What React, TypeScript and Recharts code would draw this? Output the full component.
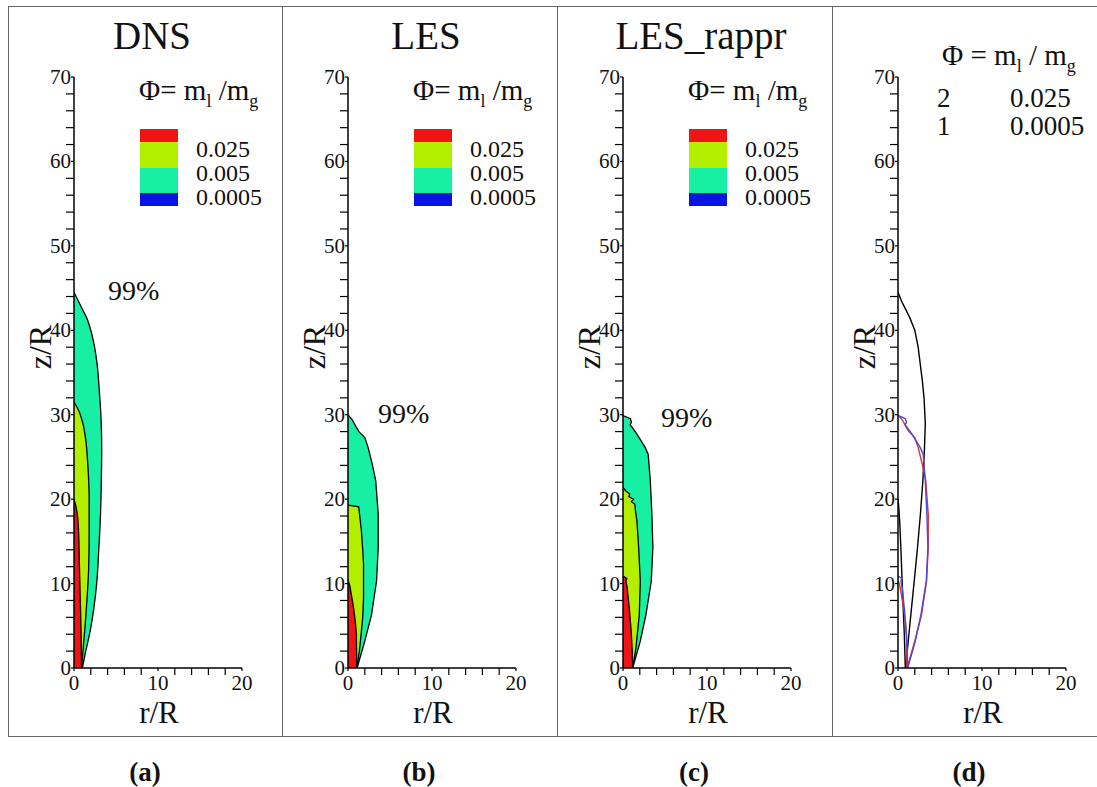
import React from "react";
import { ComposedChart, Area, Line, XAxis, YAxis } from "recharts";

const SERIF = "'Liberation Serif', 'Times New Roman', Times, serif";

// axis ticks (every 2, labels on multiples of 10)
const R_TICKS = [0, 2, 4, 6, 8, 10, 12, 14, 16, 18, 20];
const Z_TICKS = [
  0, 2, 4, 6, 8, 10, 12, 14, 16, 18, 20, 22, 24, 26, 28, 30, 32, 34, 36, 38,
  40, 42, 44, 46, 48, 50, 52, 54, 56, 58, 60, 62, 64, 66, 68, 70,
];

const TITLES = ["DNS", "LES", "LES_rappr", ""];
const CAPTIONS = ["(a)", "(b)", "(c)", "(d)"];
const LEVELS = ["0.025", "0.005", "0.0005"];
const ISO_LEVELS = [
  ["2", "0.025"],
  ["1", "0.0005"],
];
const PANEL_LEFT = [8, 282, 557, 832];

const COLORS = {
  high: "#f01414",
  mid: "#b2f000",
  low: "#17f0a4",
  floor: "#0a14e0",
  isoRed: "#e2302a",
  isoBlue: "#4a46e4",
};

// contour boundaries, [z/R, r/R]
const DNS_OUTER: [number, number][] = [
  [0, 1.0], [2, 1.4], [4, 1.85], [7, 2.35], [10, 2.7], [14, 2.95], [18, 3.15],
  [22, 3.25], [26, 3.3], [30, 3.2], [33, 3.0], [36, 2.75], [38, 2.45],
  [40, 2.0], [41.5, 1.5], [42.5, 1.0], [43.5, 0.5], [44.5, 0],
];
const DNS_MID: [number, number][] = [
  [0, 0.9], [3, 1.15], [6, 1.4], [9, 1.6], [12, 1.75], [16, 1.8], [20, 1.8],
  [24, 1.65], [27, 1.4], [29, 1.05], [30.5, 0.55], [31.5, 0],
];
const DNS_INNER: [number, number][] = [
  [0, 0.9], [4, 0.85], [8, 0.75], [12, 0.65], [16, 0.55], [18, 0.42],
  [19.3, 0.2], [20, 0],
];

const LES_OUTER: [number, number][] = [
  [0, 1.1], [0.4, 1.2], [3.2, 2.0], [6.3, 2.8], [10.3, 3.4], [14.3, 3.6],
  [18.2, 3.6], [22.2, 3.3], [24.1, 2.9], [26.1, 2.4], [27.3, 2.0], [28, 1.3],
  [28.5, 1.0], [29.4, 0.5], [30, 0],
];
const LES_MID: [number, number][] = [
  [0, 1.05], [2, 1.35], [4.4, 1.6], [6, 1.75], [8.3, 1.85], [12.3, 1.85],
  [14, 1.75], [16.2, 1.6], [18, 1.4], [19.1, 1.27], [19.3, 0.05], [19.35, 0],
];
const LES_INNER: [number, number][] = [
  [0, 1.05], [2, 1.02], [4, 1.0], [5.5, 0.87], [7.1, 0.67], [8.7, 0.4],
  [9.8, 0.2], [10.4, 0],
];

const RAPPR_OUTER: [number, number][] = [
  [0, 1.15], [0.4, 1.27], [3.2, 2.06], [6.3, 2.73], [10.3, 3.37],
  [14.3, 3.56], [18.2, 3.44], [22.2, 3.25], [25.3, 3.0], [26.1, 2.65],
  [27.0, 2.1], [27.7, 1.66], [28.2, 1.3], [28.5, 1.1], [28.8, 0.85],
  [29.1, 1.0], [29.5, 0.9], [29.7, 0.5], [29.9, 0],
];
const RAPPR_MID: [number, number][] = [
  [0, 1.15], [2.4, 1.54], [6.3, 1.94], [10.3, 2.06], [14.3, 1.86],
  [17.4, 1.66], [18.5, 1.5], [19.4, 1.4], [19.7, 1.0], [20.0, 1.25],
  [20.3, 0.7], [20.6, 0.8], [21.0, 0.3], [21.4, 0],
];
const RAPPR_INNER: [number, number][] = [
  [0, 1.15], [2, 1.1], [4, 1.0], [5.5, 0.88], [7.1, 0.75], [8.5, 0.6],
  [9.5, 0.5], [10.3, 0.35], [10.6, 0.45], [10.9, 0],
];

// panel (d): DNS iso-lines as drawn there
const DNS_ISO_OUTER: [number, number][] = [
  [0, 0.9], [2, 1.1], [4, 1.3], [7, 1.6], [10, 1.9], [14, 2.3], [18, 2.65],
  [22, 2.95], [26, 3.15], [29, 3.25], [32, 3.1], [34, 2.9], [36, 2.65],
  [38, 2.4], [40, 2.0], [41.5, 1.4], [42.5, 0.9], [43.5, 0.4], [44.5, 0],
];
const DNS_ISO_INNER: [number, number][] = [
  [0, 0.87], [4, 0.75], [10, 0.5], [14, 0.35], [17, 0.22], [19, 0.1],
  [20, 0],
];

const rows = (pts: [number, number][]) => pts.map(([z, r]) => ({ z, r }));

function RTick(props: any) {
  const { x, y, payload } = props;
  const major = payload.value % 10 === 0;
  return (
    <g>
      <line x1={x} x2={x} y1={y} y2={y + (major ? 3 : 7)} stroke="#000" strokeWidth={1.2} />
      {major && (
        <text x={x} y={y + 22} textAnchor="middle" fontFamily={SERIF} fontSize={21} fill="#111">
          {payload.value}
        </text>
      )}
    </g>
  );
}

function ZTick(props: any) {
  const { x, y, payload } = props;
  const major = payload.value % 10 === 0;
  return (
    <g>
      <line x1={x} x2={x - (major ? 3 : 8)} y1={y} y2={y} stroke="#000" strokeWidth={1.2} />
      {major && (
        <text x={x - 3} y={y + 7} textAnchor="end" fontFamily={SERIF} fontSize={21} fill="#111">
          {payload.value}
        </text>
      )}
    </g>
  );
}

function fillArea(key: string, pts: [number, number][], color: string, type: any = "linear") {
  return (
    <Area
      key={key}
      data={rows(pts)}
      dataKey="r"
      type={type}
      fill={color}
      fillOpacity={1}
      stroke="#000"
      strokeWidth={1.3}
      dot={false}
      activeDot={false}
      isAnimationActive={false}
    />
  );
}

function isoLine(key: string, pts: [number, number][], color: string) {
  return (
    <Line
      key={key}
      data={rows(pts)}
      dataKey="r"
      type="linear"
      stroke={color}
      strokeWidth={1.4}
      dot={false}
      activeDot={false}
      isAnimationActive={false}
    />
  );
}

function Panel({ left, children }: { left: number; children: React.ReactNode }) {
  return (
    <div style={{ position: "absolute", left, top: 6 }}>
      <ComposedChart
        width={275}
        height={730}
        layout="vertical"
        margin={{ top: 71, right: 41, bottom: 0, left: 0 }}
      >
        <XAxis
          type="number"
          domain={[0, 20]}
          ticks={R_TICKS}
          interval={0}
          height={68}
          tickSize={0}
          tickMargin={0}
          tickLine={false}
          allowDataOverflow
          axisLine={{ stroke: "#000", strokeWidth: 1.5 }}
          tick={(p: any) => <RTick {...p} />}
        />
        <YAxis
          type="number"
          dataKey="z"
          domain={[0, 70]}
          ticks={Z_TICKS}
          interval={0}
          width={66}
          reversed
          tickSize={0}
          tickMargin={0}
          tickLine={false}
          allowDataOverflow
          axisLine={{ stroke: "#000", strokeWidth: 1.5 }}
          tick={(p: any) => <ZTick {...p} />}
        />
        {children}
      </ComposedChart>
    </div>
  );
}

function Phi({ x, y, size, spaced }: { x: number; y: number; size: number; spaced?: boolean }) {
  const sub = Math.round(size * 0.62);
  return (
    <text x={x} y={y} fontFamily={SERIF} fontSize={size} fill="#111">
      {spaced ? "Φ = m" : "Φ= m"}
      <tspan fontSize={sub} dy={7}>l</tspan>
      <tspan dy={-7}>{spaced ? " / m" : " /m"}</tspan>
      <tspan fontSize={sub} dy={7}>g</tspan>
    </text>
  );
}

// "99%" label position inside panels a-c (offset from panel left, baseline)
const PCT_POS = [
  [100, 300],
  [96, 423],
  [104, 427],
];

export default function App() {
  const swatch = [
    [COLORS.high, 129, 13],
    [COLORS.mid, 142, 26],
    [COLORS.low, 168, 25],
    [COLORS.floor, 193, 13],
  ] as const;

  return (
    <div style={{ position: "absolute", left: 0, top: 0, width: 1097, height: 787, background: "#fff" }}>
      <Panel left={PANEL_LEFT[0]}>
        {[
          fillArea("o", DNS_OUTER, COLORS.low, "monotoneY"),
          fillArea("m", DNS_MID, COLORS.mid, "monotoneY"),
          fillArea("i", DNS_INNER, COLORS.high, "monotoneY"),
        ]}
      </Panel>
      <Panel left={PANEL_LEFT[1]}>
        {[
          fillArea("o", LES_OUTER, COLORS.low),
          fillArea("m", LES_MID, COLORS.mid),
          fillArea("i", LES_INNER, COLORS.high),
        ]}
      </Panel>
      <Panel left={PANEL_LEFT[2]}>
        {[
          fillArea("o", RAPPR_OUTER, COLORS.low),
          fillArea("m", RAPPR_MID, COLORS.mid),
          fillArea("i", RAPPR_INNER, COLORS.high),
        ]}
      </Panel>
      <Panel left={PANEL_LEFT[3]}>
        {[
          isoLine("a", DNS_ISO_OUTER, "#000"),
          isoLine("b", DNS_ISO_INNER, "#000"),
          isoLine("c", LES_OUTER, COLORS.isoRed),
          isoLine("d", LES_INNER, COLORS.isoRed),
          isoLine("e", RAPPR_OUTER, COLORS.isoBlue),
          isoLine("f", RAPPR_INNER, COLORS.isoBlue),
        ]}
      </Panel>

      <svg
        width={1097}
        height={787}
        style={{ position: "absolute", left: 0, top: 0, pointerEvents: "none" }}
      >
        {/* frame */}
        <line x1={8} x2={1097} y1={6.5} y2={6.5} stroke="#666" />
        <line x1={8} x2={1097} y1={736.5} y2={736.5} stroke="#666" />
        {PANEL_LEFT.map((l) => (
          <line key={l} x1={l + 0.5} x2={l + 0.5} y1={6} y2={737} stroke="#666" />
        ))}

        {PANEL_LEFT.map((L, i) => (
          <g key={i}>
            {TITLES[i] && (
              <text x={L + 144} y={49} textAnchor="middle" fontFamily={SERIF} fontSize={39} fill="#111">
                {TITLES[i]}
              </text>
            )}
            <text
              transform={`translate(${L + 43}, 347) rotate(-90)`}
              textAnchor="middle"
              fontFamily={SERIF}
              fontSize={32}
              fill="#111"
            >
              z/R
            </text>
            <text x={L + 151} y={723} textAnchor="middle" fontFamily={SERIF} fontSize={31} fill="#111">
              r/R
            </text>
            <text x={L + 137} y={781} textAnchor="middle" fontFamily={SERIF} fontWeight="bold" fontSize={27} fill="#111">
              {CAPTIONS[i]}
            </text>
            {i < 3 && (
              <g>
                <text x={L + PCT_POS[i][0]} y={PCT_POS[i][1]} fontFamily={SERIF} fontSize={28} fill="#111">
                  99%
                </text>
                <Phi x={L + 131} y={100} size={29} />
                {swatch.map(([c, y, h]) => (
                  <rect key={y} x={L + 132} y={y} width={38} height={h} fill={c} />
                ))}
                {LEVELS.map((t, k) => (
                  <text key={t} x={L + 188} y={157 + k * 24} fontFamily={SERIF} fontSize={24} fill="#111">
                    {t}
                  </text>
                ))}
              </g>
            )}
            {i === 3 && (
              <g>
                <Phi x={L + 110} y={65} size={29} spaced />
                {ISO_LEVELS.map(([n, v], k) => (
                  <g key={n}>
                    <text x={L + 105} y={107 + k * 28} fontFamily={SERIF} fontSize={27} fill="#111">
                      {n}
                    </text>
                    <text x={L + 178} y={107 + k * 28} fontFamily={SERIF} fontSize={27} fill="#111">
                      {v}
                    </text>
                  </g>
                ))}
              </g>
            )}
          </g>
        ))}
      </svg>
    </div>
  );
}
